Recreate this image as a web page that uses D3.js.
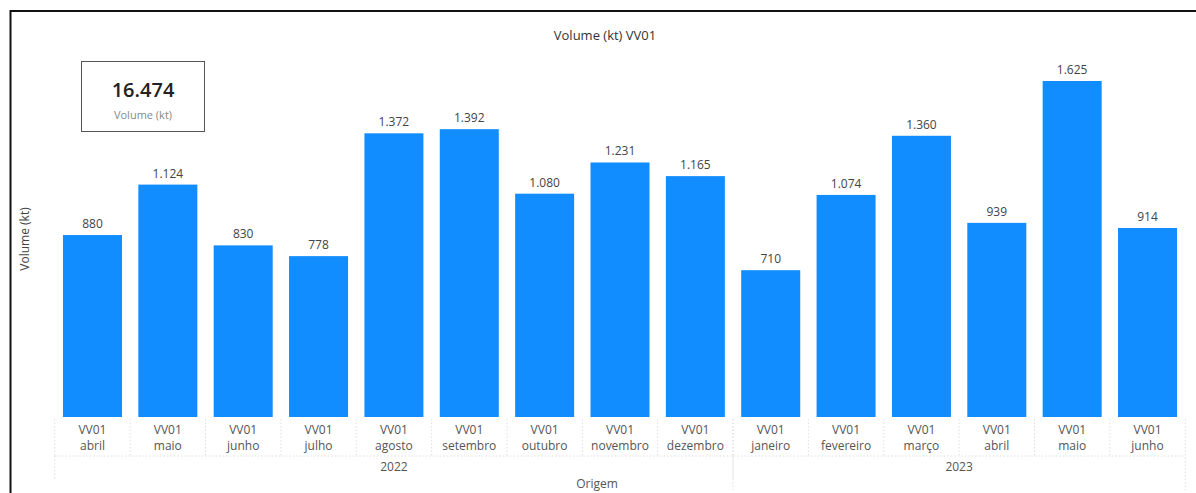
<!DOCTYPE html>
<html><head><meta charset="utf-8">
<script src="https://cdn.jsdelivr.net/npm/d3@7/dist/d3.min.js"></script>
<style>body{margin:0;background:#fff}svg{display:block}text{font-family:"Segoe UI","Open Sans","Noto Sans",sans-serif}</style>
</head><body>
<svg id="c" width="1196" height="493"></svg>
<script>
const origins = ["VV01","VV01","VV01","VV01","VV01","VV01","VV01","VV01","VV01","VV01","VV01","VV01","VV01","VV01","VV01"];
const months = ["abril","maio","junho","julho","agosto","setembro","outubro","novembro","dezembro","janeiro","fevereiro","março","abril","maio","junho"];
const years = ["2022","2022","2022","2022","2022","2022","2022","2022","2022","2023","2023","2023","2023","2023","2023"];
const values = [880,1124,830,778,1372,1392,1080,1231,1165,710,1074,1360,939,1625,914];
const totalValue = 16474;
const chartTitle = "Volume (kt) VV01";

const svg = d3.select("#c");
const fmt = d3.formatLocale({decimal:",", thousands:".", grouping:[3], currency:["",""]}).format(",d");

// outer frame
svg.append("rect").attr("x",10.5).attr("y",11).attr("width",1200).attr("height",500)
  .attr("fill","none").attr("stroke","#111").attr("stroke-width",2);

const idx = d3.range(values.length);
const x = d3.scaleBand().domain(idx).range([54.8,1185.2]).paddingInner(0.217).paddingOuter(0.1085);
const y = d3.scaleLinear().domain([0,1625]).range([417,81]);

svg.append("text").attr("x",605).attr("y",40).attr("text-anchor","middle")
  .attr("font-size",13).attr("fill","#333").text(chartTitle);

// bars
svg.selectAll("rect.bar").data(idx).join("rect").attr("class","bar")
  .attr("x",i=>x(i)).attr("width",x.bandwidth())
  .attr("y",i=>y(values[i])).attr("height",i=>y(0)-y(values[i]))
  .attr("fill","#118DFF");

svg.selectAll("text.val").data(idx).join("text").attr("class","val")
  .attr("x",i=>x(i)+x.bandwidth()/2).attr("y",i=>y(values[i])-7)
  .attr("text-anchor","middle").attr("font-size",12).attr("fill","#444")
  .text(i=>fmt(values[i]));

// axis grid (dotted)
const grid = svg.append("g").attr("stroke","#e0e0e0").attr("stroke-dasharray","1.5,2").attr("fill","none");
const step = x.step();
const x0 = x.range()[0];
idx.forEach(i=>{
  const bx = x0 + i*step;
  grid.append("line").attr("x1",bx).attr("x2",bx).attr("y1",419).attr("y2",456);
});
grid.append("line").attr("x1",x0).attr("x2",x.range()[1]).attr("y1",456).attr("y2",456);
// year groups
const yearGroups = d3.groups(idx, i=>years[i]);
yearGroups.forEach(([yr, arr])=>{
  const s = x0 + arr[0]*step, e = x0 + (arr[arr.length-1]+1)*step;
  grid.append("line").attr("x1",s).attr("x2",s).attr("y1",456).attr("y2",480);
  grid.append("line").attr("x1",e).attr("x2",e).attr("y1",419).attr("y2",490);
  svg.append("text").attr("x",(s+e)/2).attr("y",471).attr("text-anchor","middle")
    .attr("font-size",12).attr("fill","#555").text(yr);
});

svg.selectAll("text.org").data(idx).join("text").attr("class","org")
  .attr("x",i=>x(i)+x.bandwidth()/2).attr("y",434).attr("text-anchor","middle")
  .attr("font-size",12).attr("fill","#555").text(i=>origins[i]);
svg.selectAll("text.mon").data(idx).join("text").attr("class","mon")
  .attr("x",i=>x(i)+x.bandwidth()/2).attr("y",450).attr("text-anchor","middle")
  .attr("font-size",12).attr("fill","#555").text(i=>months[i]);

svg.append("text").attr("x",597).attr("y",488).attr("text-anchor","middle")
  .attr("font-size",12).attr("fill","#555").text("Origem");
svg.append("text").attr("transform","translate(29,239) rotate(-90)").attr("text-anchor","middle")
  .attr("font-size",12).attr("fill","#444").text("Volume (kt)");

// KPI card
svg.append("rect").attr("x",81.5).attr("y",61.5).attr("width",123).attr("height",70)
  .attr("fill","#fff").attr("stroke","#555").attr("stroke-width",1);
svg.append("text").attr("x",143).attr("y",97).attr("text-anchor","middle")
  .attr("font-size",20).attr("font-weight","600").attr("fill","#222").text(fmt(totalValue));
svg.append("text").attr("x",143).attr("y",119).attr("text-anchor","middle")
  .attr("font-size",11).attr("fill","#888").text("Volume (kt)");
</script>
</body></html>
